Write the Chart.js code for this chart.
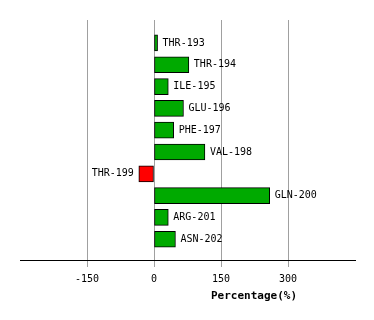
<!DOCTYPE html>
<html>
<head>
<meta charset="utf-8">
<script src="https://cdn.jsdelivr.net/npm/chart.js@4"></script>
<style>
  html, body { margin:0; padding:0; background:#fff; }
  #wrap { width:374px; height:320px; position:relative; }
</style>
</head>
<body>
<div id="wrap"><canvas id="chart"></canvas></div>
<script>
// residue labels and their percentage values, top to bottom
const residues = ['THR-193','THR-194','ILE-195','GLU-196','PHE-197','VAL-198','THR-199','GLN-200','ARG-201','ASN-202'];
const values = [8, 78, 32, 66, 44, 114, -34, 259, 32, 48];
const xTicks = [-150, 0, 150, 300];
const xTitle = 'Percentage(%)';

const MONO = '"DejaVu Sans Mono", monospace';

const barLabels = {
  id: 'barLabels',
  afterDatasetsDraw(chart) {
    const ctx = chart.ctx;
    const meta = chart.getDatasetMeta(0);
    ctx.save();
    ctx.font = '10px ' + MONO;
    ctx.fillStyle = '#000';
    ctx.textBaseline = 'middle';
    meta.data.forEach((el, i) => {
      if (values[i] >= 0) {
        ctx.textAlign = 'left';
        ctx.fillText(residues[i], el.x + 5, el.y);
      } else {
        ctx.textAlign = 'right';
        ctx.fillText(residues[i], el.x - 5, el.y);
      }
    });
    ctx.restore();
  }
};

const axisTitle = {
  id: 'axisTitle',
  afterDraw(chart) {
    const ctx = chart.ctx;
    ctx.save();
    ctx.font = 'bold 11px ' + MONO;
    ctx.fillStyle = '#000';
    ctx.textAlign = 'center';
    ctx.textBaseline = 'middle';
    ctx.fillText(xTitle, 254, 296);
    ctx.restore();
  }
};

new Chart(document.getElementById('chart'), {
  type: 'bar',
  data: {
    datasets: [{
      data: values.map((v, i) => ({ x: v, y: i })),
      backgroundColor: values.map(v => v < 0 ? '#ff0000' : '#00aa00'),
      borderColor: '#000',
      borderWidth: 1,
      borderSkipped: false,
      barThickness: 16
    }]
  },
  options: {
    indexAxis: 'y',
    responsive: true,
    maintainAspectRatio: false,
    animation: false,
    layout: { padding: { top: 20, left: 20, right: 19, bottom: 0 } },
    plugins: { legend: { display: false }, tooltip: { enabled: false } },
    scales: {
      y: {
        type: 'linear', display: false, reverse: true, offset: false,
        min: -1.05, max: 9.95
      },
      x: {
        type: 'linear', min: -300, max: 450,
        afterBuildTicks: s => { s.ticks = xTicks.map(v => ({ value: v })); },
        afterFit: s => { s.height = 60; },
        grid: { color: '#a0a0a0', lineWidth: 1, tickLength: 7, drawTicks: true },
        border: { display: true, color: '#000', width: 1 },
        ticks: { color: '#000', padding: 6, font: { family: MONO, size: 10 }, maxRotation: 0 }
      }
    }
  },
  plugins: [barLabels, axisTitle]
});
</script>
</body>
</html>
